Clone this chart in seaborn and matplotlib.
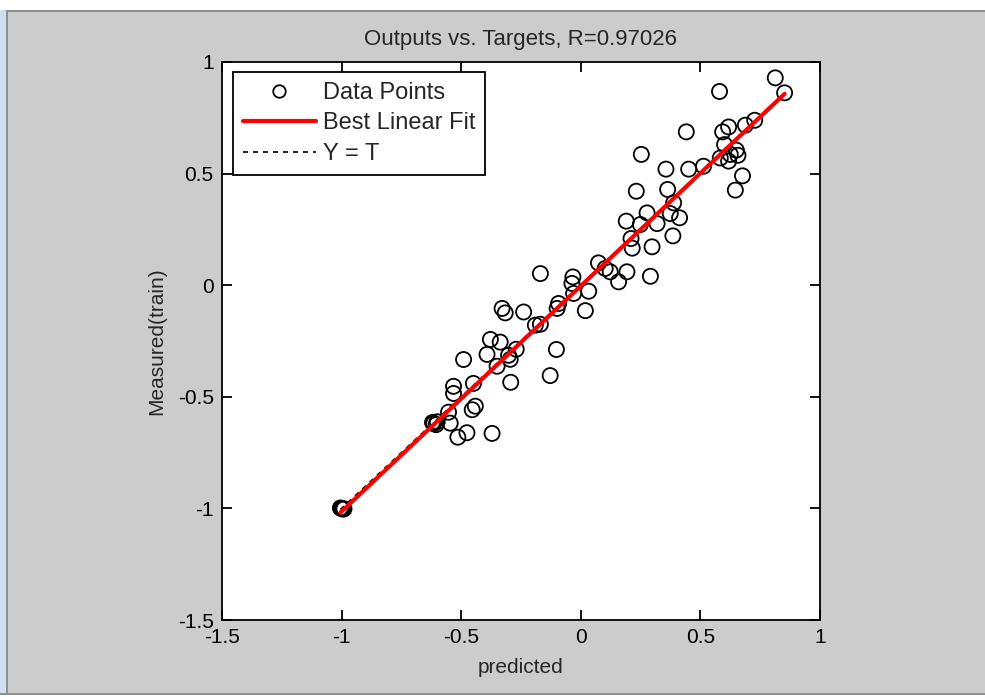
import numpy as np
import pandas as pd
import matplotlib
matplotlib.use("Agg")
import matplotlib.pyplot as plt
import seaborn as sns
from matplotlib.patches import Rectangle
from matplotlib.lines import Line2D

# Training samples: network prediction vs. measured target
predicted = [
    0.813, 0.852, 0.580, 0.441, 0.727, 0.688, 0.618, 0.593, 0.601, 0.650,
    0.657, 0.625, 0.618, 0.583, 0.513, 0.451, 0.356, 0.253, 0.676, 0.646,
    0.232, 0.363, 0.388, 0.277, 0.190, 0.249, 0.319, 0.374, 0.413, 0.385,
    0.210, 0.298, 0.215, 0.291, 0.193, 0.158, 0.123, 0.074, 0.102, -0.169,
    0.033, -0.033, -0.037, -0.030, -0.093, -0.099, 0.019, -0.239, -0.329, -0.316,
    -0.190, -0.169, -0.378, -0.337, -0.270, -0.392, -0.302, -0.350, -0.295, -0.102,
    -0.128, -0.293, -0.490, -0.532, -0.532, -0.449, -0.441, -0.454, -0.553, -0.546,
    -0.615, -0.600, -0.620, -0.605, -0.476, -0.514, -0.371,
    -1.000, -0.995, -1.005, -0.990,
]
measured = [
    0.929, 0.862, 0.868, 0.687, 0.739, 0.717, 0.709, 0.687, 0.630, 0.605,
    0.582, 0.586, 0.556, 0.570, 0.533, 0.520, 0.520, 0.586, 0.490, 0.426,
    0.421, 0.429, 0.369, 0.324, 0.287, 0.272, 0.276, 0.321, 0.302, 0.221,
    0.209, 0.172, 0.166, 0.040, 0.060, 0.015, 0.060, 0.100, 0.075, 0.052,
    -0.027, 0.037, 0.008, -0.037, -0.082, -0.104, -0.114, -0.120, -0.104, -0.124,
    -0.179, -0.175, -0.243, -0.255, -0.287, -0.310, -0.314, -0.363, -0.332, -0.288,
    -0.405, -0.435, -0.333, -0.453, -0.485, -0.440, -0.542, -0.558, -0.569, -0.618,
    -0.620, -0.612, -0.615, -0.625, -0.661, -0.681, -0.664,
    -1.000, -1.003, -0.998, -1.002,
]

title = "Outputs vs. Targets, R=0.97026"
x_label = "predicted"
y_label = "Measured(train)"
ticks = [-1.5, -1, -0.5, 0, 0.5, 1]
tick_labels = ["-1.5", "-1", "-0.5", "0", "0.5", "1"]
legend_labels = ["Data Points", "Best Linear Fit", "Y = T"]

sns.set_theme(style="ticks")
plt.rcParams["font.family"] = ["Liberation Sans", "DejaVu Sans"]

W, H = 985, 697
fig = plt.figure(figsize=(W / 100, H / 100), dpi=100, facecolor="#cccccc")

# window chrome around the figure area
def px_rect(x0, y0, x1, y1, color):
    fig.patches.append(Rectangle((x0 / W, 1 - y1 / H), (x1 - x0) / W, (y1 - y0) / H,
                                 transform=fig.transFigure, facecolor=color,
                                 edgecolor="none", zorder=-10))

px_rect(0, 0, W, 10, "#ffffff")
px_rect(0, 10, W, 12, "#8a8f96")
px_rect(0, 10, 6, H, "#cfdff0")
px_rect(6, 10, 8, H, "#8a8f96")
px_rect(0, H - 4, W, H - 2, "#8a8f96")
px_rect(0, H - 2, W, H, "#ffffff")

ax = fig.add_axes([222 / W, 1 - 620 / H, (820 - 222) / W, (620 - 62) / H])
ax.set_facecolor("white")

df = pd.DataFrame({"predicted": predicted, "measured": measured})

# regression line and identity line over the target range
slope, intercept = np.polyfit(df["predicted"], df["measured"], 1)
xr = np.array([df["predicted"].min(), df["predicted"].max()])
lines = pd.DataFrame({"x": xr, "fit": slope * xr + intercept, "ident": xr})

sns.lineplot(data=lines, x="x", y="ident", ax=ax, color="black", linewidth=1.2,
             linestyle=(0, (3, 3)), zorder=2)
sns.scatterplot(data=df, x="predicted", y="measured", ax=ax, s=118,
                color="black", linewidth=1.3, zorder=3, legend=False)
pts = ax.collections[-1]
pts.set_facecolor("none")
pts.set_edgecolor("black")
sns.lineplot(data=lines, x="x", y="fit", ax=ax, color="#ff0000", linewidth=3.0, zorder=4)

ax.set_xlim(-1.5, 1)
ax.set_ylim(-1.5, 1)
ax.set_xticks(ticks)
ax.set_yticks(ticks)
ax.set_xticklabels(tick_labels)
ax.set_yticklabels(tick_labels)
ax.tick_params(direction="in", length=7, width=1.3, top=True, right=True,
               labelsize=15, colors="black", pad=6)
for s in ax.spines.values():
    s.set_visible(True)
    s.set_linewidth(1.3)
    s.set_color("black")

ax.set_xlabel(x_label, fontsize=15, labelpad=8)
ax.set_ylabel(y_label, fontsize=15, labelpad=8)
ax.set_title(title, fontsize=16, pad=12)

handles = [
    Line2D([], [], marker="o", linestyle="", markerfacecolor="none",
           markeredgecolor="black", markersize=9, markeredgewidth=1.3),
    Line2D([], [], color="#ff0000", linewidth=3.0),
    Line2D([], [], color="black", linewidth=1.2, linestyle=(0, (3, 3))),
]
leg = ax.legend(handles, legend_labels, loc="upper left",
                bbox_to_anchor=(0.018, 0.982), borderaxespad=0,
                fontsize=17, frameon=True, fancybox=False, framealpha=1,
                edgecolor="black", handlelength=3.1, handletextpad=0.3,
                labelspacing=0.36, borderpad=0.42)
leg.get_frame().set_linewidth(1.3)

fig.savefig("out.png", dpi=100, facecolor=fig.get_facecolor())
